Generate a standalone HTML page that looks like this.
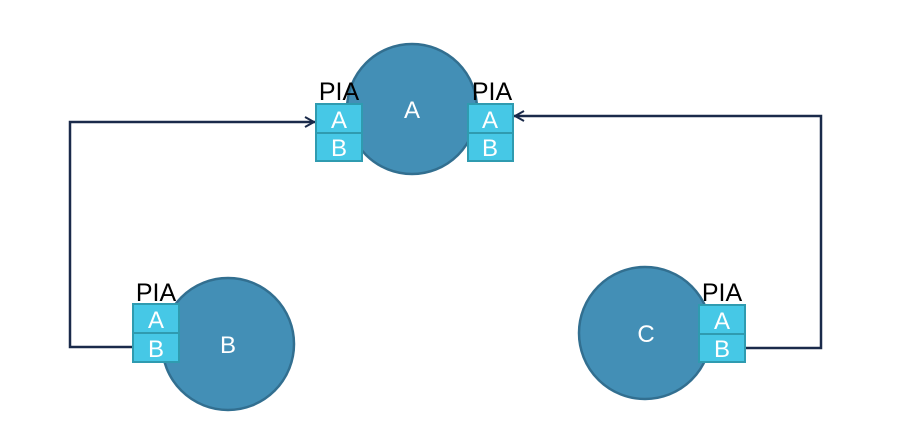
<!DOCTYPE html>
<html><head><meta charset="utf-8"><style>html,body{margin:0;padding:0;background:#fff}svg{display:block}</style></head>
<body>
<svg width="901" height="439" viewBox="0 0 901 439" xmlns="http://www.w3.org/2000/svg" font-family="Liberation Sans, sans-serif">
<defs>
<marker id="ar" markerWidth="12" markerHeight="12" refX="10" refY="6" orient="auto" markerUnits="userSpaceOnUse">
<path d="M1,1 L10,6 L1,11" fill="none" stroke="#1a2a4a" stroke-width="2"/>
</marker>
</defs>
<g fill="none" stroke="#1a2a4a" stroke-width="2.5" stroke-linejoin="miter" stroke-linecap="square">
<polyline points="133,347 70,347 70,122 314,122" marker-end="url(#ar)"/>
<polyline points="746,348 821,348 821,116 515,116" marker-end="url(#ar)"/>
</g>
<g fill="#438fb6" stroke="#326f90" stroke-width="2.5">
<circle cx="412" cy="109" r="65"/>
<circle cx="228" cy="344" r="66"/>
<circle cx="645" cy="333" r="66"/>
</g>
<g fill="#fff" font-size="24" text-anchor="middle">
<text x="412" y="118">A</text>
<text x="228" y="353">B</text>
<text x="646" y="342">C</text>
</g>
<g fill="#46c8e6" stroke="#2f9bb0" stroke-width="2">
<rect x="316" y="104" width="46" height="29"/><rect x="316" y="133" width="46" height="28"/>
<rect x="468" y="104" width="45" height="29"/><rect x="468" y="133" width="45" height="28"/>
<rect x="133" y="304" width="46" height="29"/><rect x="133" y="333" width="46" height="29"/>
<rect x="699" y="305" width="46" height="29"/><rect x="699" y="334" width="46" height="28"/>
</g>
<g fill="#fff" font-size="24" text-anchor="middle">
<text x="339" y="128">A</text><text x="339" y="156">B</text>
<text x="490" y="128">A</text><text x="490" y="156">B</text>
<text x="156" y="328">A</text><text x="156" y="357">B</text>
<text x="722" y="329">A</text><text x="722" y="357">B</text>
</g>
<g fill="#000" font-size="25" text-anchor="middle">
<text x="339" y="100">PIA</text>
<text x="492" y="100">PIA</text>
<text x="156" y="301">PIA</text>
<text x="722" y="301">PIA</text>
</g>
</svg>
</body></html>
